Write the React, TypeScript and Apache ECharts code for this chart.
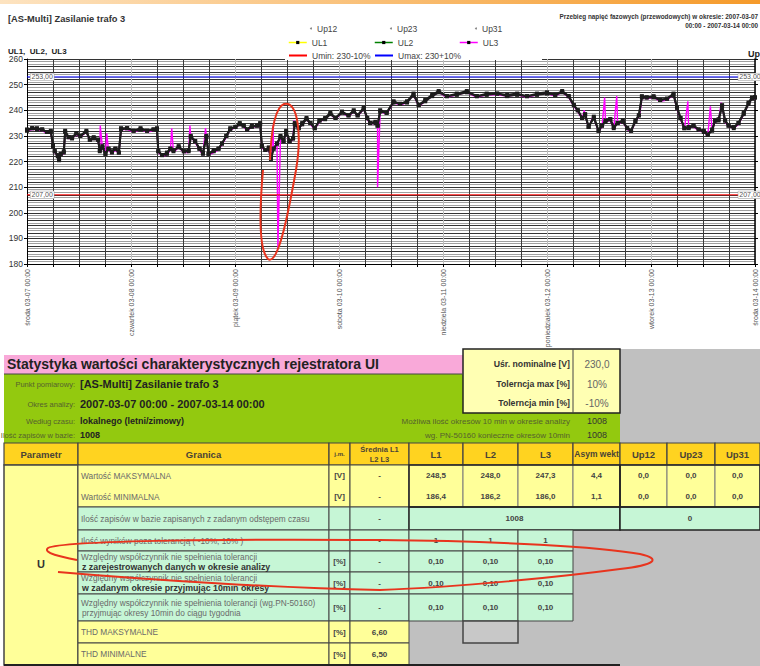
import React, { useEffect, useRef } from "react";
import * as echarts from "echarts";

const FONT = '"Liberation Sans", Arial, Helvetica, sans-serif';

// ---------------- chart data ----------------
const dayLabels = [
  "środa 03-07 00:00",
  "czwartek 03-08 00:00",
  "piątek 03-09 00:00",
  "sobota 03-10 00:00",
  "niedziela 03-11 00:00",
  "poniedziałek 03-12 00:00",
  "wtorek 03-13 00:00",
  "środa 03-14 00:00",
];

const hours = [
  0, 1.2, 2.3, 3.5, 4.6, 5.5, 6, 6.4, 7.1, 7.4,
  7.8, 8.5, 8.8, 9.6, 10.4, 11.4, 12.3, 13.7, 14.5, 15.4,
  16.4, 16.8, 17.4, 18.1, 18.8, 19.6, 20.4, 21.2, 21.7, 23.1,
  24.6, 26.2, 27.7, 29.2, 30, 30.3, 31.2, 32.3, 33.1, 33.8,
  35, 36.2, 37.3, 37.8, 38.8, 39.8, 40.6, 41.4, 41.9, 43.1,
  44.2, 45, 46, 46.9, 48.1, 49.1, 50, 50.8, 51.9, 53.1,
  53.8, 54.2, 55, 55.8, 56.3, 56.9, 57.7, 58.5, 59.2, 59.8,
  60.6, 61.4, 61.8, 62.7, 63.5, 64.5, 65.4, 66.4, 67.5, 68.8,
  70, 71.2, 72.7, 74.2, 75.4, 76.3, 77.7, 78.5, 79.2, 80.4,
  80.9, 81.5, 83, 84.6, 86.1, 87.7, 89.2, 90.4, 91.9, 93.5,
  95, 96.9, 99.2, 101.5, 103.8, 106.1, 108.5, 110.8, 113.1, 115.4,
  117.7, 120, 121.9, 123.5, 125, 126.2, 127.1, 128.1, 128.8, 129.6,
  130.8, 131.9, 132.7, 133.5, 134.6, 135.4, 136.3, 137.5, 138.5, 139.4,
  140.4, 141.2, 141.9, 143, 144.6, 146.1, 147.7, 149.2, 150, 150.8,
  151.7, 152.7, 153.8, 155, 156.2, 157.1, 158.1, 158.8, 159.6, 160.4,
  161.1, 161.9, 163.1, 164.2, 165.4, 166.5, 167.3, 168,
];

const ul1 = [
  232.5, 233, 233, 232.5, 231.5, 232, 226, 224, 222, 220.5,
  223, 223.5, 232, 229.5, 229.5, 231, 230, 232, 228.5, 229.5,
  228.5, 224, 226, 223, 225, 223.5, 225, 223.5, 233, 233,
  232, 233, 232, 232.5, 233, 224, 222.5, 223, 225, 224,
  226, 224, 224, 230, 228, 225, 223, 230, 223, 224,
  225, 227, 230, 233, 233.5, 235, 234, 232.5, 234, 234,
  235, 226, 224.5, 225, 221, 225, 227, 230, 228, 232,
  228, 229, 235, 233, 235, 237, 235, 233, 236, 237,
  239, 237, 239.5, 238, 240, 238, 241, 237, 235, 235.5,
  234, 240, 239, 243.5, 242.5, 243.5, 246.5, 242, 244, 246,
  247.5, 245.5, 246.5, 247.5, 245.5, 246.5, 246.5, 246, 246.5, 245.5,
  246.5, 247, 246, 247.5, 245.5, 242, 240, 237, 238.5, 233.5,
  237.5, 232, 234, 236, 236.5, 233.5, 235, 236, 233, 232,
  236, 238, 245.5, 245, 245.5, 244, 244.5, 246.5, 241, 237,
  233, 233.5, 234, 232.5, 232, 230.5, 232.5, 236, 236.5, 242,
  236, 234, 233.5, 235, 239, 243, 245, 245,
];

const ul2 = [
  232, 233, 232.5, 232.5, 231.5, 231.5, 226.5, 224, 222.5, 221,
  223, 224, 231.5, 229.5, 229, 231, 230, 231.5, 228.5, 229,
  228.5, 224.5, 225.5, 223, 225, 224, 225, 223.5, 232.5, 233,
  232, 232.5, 232, 232.5, 232.5, 224, 222.5, 223.5, 225, 224.5,
  225.5, 224, 224.5, 229.5, 228, 225, 223.5, 229.5, 223, 224.5,
  225, 227, 230, 232.5, 233.5, 234.5, 234, 232.5, 233.5, 234,
  234.5, 226, 224.5, 225.5, 221.5, 225, 227, 229.5, 228, 231.5,
  228, 229, 234.5, 233, 234.5, 236.5, 235, 233, 236, 236.5,
  238.5, 237, 239, 238, 239.5, 238, 240.5, 237, 235, 235,
  234, 239.5, 239, 243, 242.5, 243, 246, 242, 243.5, 245.5,
  247, 245.5, 246, 247, 245.5, 246, 246.5, 245.5, 246, 245.5,
  246, 246.5, 246, 247, 245.5, 242, 240, 237, 238, 233.5,
  237, 232, 234, 235.5, 236.5, 233, 235, 235.5, 233, 232,
  235.5, 238, 245, 245, 245, 244, 244.5, 246, 241, 237,
  233, 233, 234, 232.5, 231.5, 230.5, 232, 236, 236, 241.5,
  236, 234, 233, 235, 238.5, 242.5, 244.5, 245,
];

const ul3 = [
  232, 232.5, 232.5, 232, 231, 231.5, 226, 223.5, 222, 220.5,
  222.5, 223, 231.5, 229, 229, 230.5, 229.5, 231.5, 228, 229,
  228, 224, 225.5, 222.5, 224.5, 223, 224.5, 223, 232.5, 232.5,
  231.5, 232.5, 231.5, 232, 232.5, 223.5, 222, 222.5, 224.5, 223.5,
  225.5, 223.5, 223.5, 229.5, 227.5, 224.5, 222.5, 229.5, 222.5, 223.5,
  224.5, 226.5, 229.5, 232.5, 233, 234.5, 233.5, 232, 233.5, 233.5,
  234.5, 225.5, 224, 224.5, 220.5, 224.5, 226.5, 229.5, 227.5, 231.5,
  227.5, 228.5, 234.5, 232.5, 234.5, 236.5, 234.5, 232.5, 235.5, 236.5,
  238.5, 236.5, 239, 237.5, 239.5, 237.5, 240.5, 236.5, 234.5, 235,
  233.5, 239.5, 238.5, 243, 242, 243, 246, 241.5, 243.5, 245.5,
  247, 245, 246, 247, 245, 246, 246, 245.5, 246, 245,
  246, 246.5, 245.5, 247, 245, 241.5, 239.5, 236.5, 238, 233,
  237, 231.5, 233.5, 235.5, 236, 233, 234.5, 235.5, 232.5, 231.5,
  235.5, 237.5, 245, 244.5, 245, 243.5, 244, 246, 240.5, 236.5,
  232.5, 233, 233.5, 232, 231.5, 230, 232, 235.5, 236, 241.5,
  235.5, 233.5, 233, 234.5, 238.5, 242.5, 244.5, 244.5,
];

const ul3SpikeHours = [16.9, 18.4, 33.4, 37.6, 41.2, 56.8, 57.9, 61.6, 80.9, 128.6, 130.7, 133.3, 136.1, 141.4, 152.5, 157.7, 160.2];
const ul3SpikeValues = [234, 231, 233, 234, 233, 234, 186, 236, 210, 240, 238, 245, 245.5, 238, 243.5, 241.5, 243];

const limitValues = [207, 253];
const limitLabels = ["207,00", "253,00"];

// ---------------- table data ----------------
const tableHeaders = ["Parametr", "Granica", "j.m.", "Średnia L1\nL2 L3", "L1", "L2", "L3", "Asym wekt", "Up12", "Up23", "Up31"];
const rowLabels = [
  "Wartość MAKSYMALNA",
  "Wartość MINIMALNA",
  "Ilość zapisów w bazie zapisanych z zadanym odstępem czasu",
  "Ilość wyników poza tolerancją ( -10%, 10% )",
  "Względny współczynnik nie spełnienia tolerancji",
  "Względny współczynnik nie spełnienia tolerancji",
  "Względny współczynnik nie spełnienia tolerancji (wg.PN-50160)",
  "THD MAKSYMALNE",
  "THD MINIMALNE",
];
const rowSubLabels = ["", "", "", "", "z zarejestrowanych danych w okresie analizy", "w zadanym okresie przyjmując 10min okresy", "przyjmując okresy 10min do ciągu tygodnia", "", ""];
const rowSubBold = [false, false, false, false, true, true, false, false, false];
const rowUnits = ["[V]", "[V]", "", "", "[%]", "[%]", "[%]", "[%]", "[%]"];
const rowAverages = ["-", "-", "-", "-", "-", "-", "-", "6,60", "6,50"];
const valuesL1 = ["248,5", "186,4", "", "1", "0,10", "0,10", "0,10"];
const valuesL2 = ["248,0", "186,2", "", "1", "0,10", "0,10", "0,10"];
const valuesL3 = ["247,3", "186,0", "", "1", "0,10", "0,10", "0,10"];
const valuesAsym = ["4,4", "1,1"];
const valuesUp12 = ["0,0", "0,0"];
const valuesUp23 = ["0,0", "0,0"];
const valuesUp31 = ["0,0", "0,0"];
const recordCounts = ["1008", "0"];
const infoLabels = ["Punkt pomiarowy:", "Okres analizy:", "Według czasu:", "Ilość zapisów w bazie:"];
const infoValues = ["[AS-Multi] Zasilanie trafo 3", "2007-03-07 00:00 - 2007-03-14 00:00", "lokalnego (letni/zimowy)", "1008"];
const nominalLabels = ["Uśr. nominalne [V]", "Tolerncja max [%]", "Tolerncja min [%]"];
const nominalValues = ["230,0", "10%", "-10%"];
const periodLabels = ["Możliwa ilość okresów 10 min w okresie analizy", "wg. PN-50160 konieczne okresów 10min"];
const periodValues = ["1008", "1008"];

// hand-drawn annotation loops
echarts.graphic.registerShape(
  "loopChart",
  echarts.graphic.extendPath(
    "M263,170 C259,215 259,250 268,259 C278,266 288,215 296,170 C302,135 298,100 284,104 C274,108 271,135 270,160",
    {}
  )
);
echarts.graphic.registerShape(
  "loopTable",
  echarts.graphic.extendPath(
    "M77,560 C62,557 42,553 48,548 C62,540 250,539 380,540 C500,541 600,547 640,554 C662,559 655,565 620,569 C560,577 460,587 380,590 C280,588 150,580 58,572",
    {}
  )
);

const YEL = "#ffff99";
const MINT = "#c6f6d6";
const GOLD = "#ffd320";
const GRAY = "#c0c0c0";
const GREEN = "#93c90f";
const PINK = "#f9a9d9";
const BOX = "#ffffb3";
const LINE = "#444";
const THIN = "#7a7a7a";

function buildGraphics(): any[] {
  const els: any[] = [];
  const R = (x: number, y: number, w: number, h: number, fill: string, stroke?: string, lw = 1, z = 10) =>
    els.push({ type: "rect", silent: true, z, shape: { x, y, width: w, height: h }, style: { fill, stroke: stroke || null, lineWidth: lw } });
  const L = (x1: number, y1: number, x2: number, y2: number, stroke: string, lw = 1, z = 11) =>
    els.push({ type: "line", silent: true, z, shape: { x1, y1, x2, y2 }, style: { stroke, lineWidth: lw } });
  const T = (x: number, y: number, text: string, size: number, o: any = {}) =>
    els.push({
      type: "text",
      silent: true,
      z: o.z || 12,
      x,
      y,
      style: {
        text,
        fill: o.color || "#333",
        fontSize: size,
        fontWeight: o.bold ? "bold" : "normal",
        fontFamily: FONT,
        align: o.align || "left",
        textAlign: o.align || "left",
        verticalAlign: "middle",
        textVerticalAlign: "middle",
        lineHeight: o.lineHeight || size + 2,
      },
    });

  // top orange strip
  els.push({
    type: "rect",
    silent: true,
    z: 1,
    shape: { x: 0, y: 0, width: 760, height: 4 },
    style: {
      fill: {
        type: "linear", x: 0, y: 0, x2: 1, y2: 0,
        colorStops: [{ offset: 0, color: "#fde3c0" }, { offset: 1, color: "#f59a2a" }],
      },
    },
  });

  // chart titles
  T(8, 19, "[AS-Multi] Zasilanie trafo 3", 9.3, { bold: true, color: "#333" });
  T(8, 51, "UL1,  UL2,  UL3", 8, { bold: true, color: "#222" });
  T(760, 54, "Up", 9, { bold: true, color: "#222", align: "right" });
  T(758, 16, "Przebieg napięć fazowych (przewodowych) w okresie: 2007-03-07", 6.4, { bold: true, align: "right", color: "#333" });
  T(758, 25, "00:00 - 2007-03-14 00:00", 6.4, { bold: true, align: "right", color: "#333" });
  // legend background
  R(285, 24, 257, 36, "#ffffff", undefined, 1, 3);

  // ---------- table top block ----------
  R(620, 349, 140, 94, GRAY, undefined, 1, 9);
  R(4, 355, 459, 19, PINK, undefined, 1, 9);
  R(4, 374, 616, 69, GREEN, undefined, 1, 9);
  L(4, 374, 463, 374, LINE, 1);
  R(463, 349, 157, 64, BOX, "#222", 1.5, 10);
  L(573, 349, 573, 413, LINE, 1);
  T(7, 364, "Statystyka wartości charakterystycznych rejestratora UI", 14, { bold: true, color: "#222" });
  const infoY = [384, 404, 421, 435];
  const infoSize = [11, 11, 9, 9];
  infoLabels.forEach((s, i) => {
    T(75, infoY[i], s, 7.5, { align: "right", color: "#55622e" });
    T(80, infoY[i], infoValues[i], infoSize[i], { bold: true, color: "#222" });
  });
  const nomY = [364, 384, 403];
  nominalLabels.forEach((s, i) => {
    T(570, nomY[i], s, 8.7, { bold: true, align: "right", color: "#333" });
    T(597, nomY[i], nominalValues[i], 10, { align: "center", color: "#666" });
  });
  const perY = [421, 435];
  periodLabels.forEach((s, i) => {
    T(570, perY[i], s, 8, { align: "right", color: "#55622e" });
    T(597, perY[i], periodValues[i], 9, { align: "center", color: "#333" });
  });

  // ---------- main table ----------
  const colX = [4, 78, 329, 350, 409, 463, 518, 573, 620, 667, 715, 760];
  const rowY = [465, 486, 507, 530, 551, 572, 594, 621, 643, 665];
  const cx = (c: number) => (colX[c] + colX[c + 1]) / 2;
  const cy = (r: number) => (rowY[r] + rowY[r + 1]) / 2;

  // gray background regions
  R(573, 530, 187, 91, GRAY, undefined, 1, 9);
  R(409, 621, 351, 45, GRAY, undefined, 1, 9);

  // header
  for (let c = 0; c < 11; c++) {
    R(colX[c], 443, colX[c + 1] - colX[c], 22, GOLD, LINE, 1.2, 10);
    const size = c === 2 ? 6 : c === 3 ? 7.5 : c === 7 ? 8.5 : 9.5;
    T(cx(c), 454, tableHeaders[c], size, { bold: true, align: "center", color: "#4a4436", lineHeight: 10 });
  }

  // Parametr column
  R(4, 465, 74, 200, YEL, LINE, 1.5, 10);
  T(41, 564, "U", 11, { bold: true, align: "center", color: "#333" });

  // rows 0-1 (max/min) block
  for (let c = 1; c < 11; c++) {
    R(colX[c], 465, colX[c + 1] - colX[c], 42, YEL, c >= 4 ? THIN : LINE, 1, 10);
  }
  R(409, 465, 211, 42, "rgba(0,0,0,0)", "#222", 1.5, 11);
  R(620, 465, 140, 42, "rgba(0,0,0,0)", "#222", 1.5, 11);
  const maxMinCols = [valuesL1, valuesL2, valuesL3, valuesAsym, valuesUp12, valuesUp23, valuesUp31];
  for (let r = 0; r < 2; r++) {
    maxMinCols.forEach((arr, k) => T(cx(4 + k), cy(r), arr[r], 8, { bold: true, align: "center", color: "#444" }));
  }

  // row 2 (records)
  for (let c = 1; c < 4; c++) R(colX[c], 507, colX[c + 1] - colX[c], 23, MINT, LINE, 1, 10);
  R(409, 507, 211, 23, MINT, "#222", 1.5, 10);
  R(620, 507, 140, 23, MINT, "#222", 1.5, 10);
  T(514.5, cy(2), recordCounts[0], 8, { bold: true, align: "center", color: "#444" });
  T(690, cy(2), recordCounts[1], 8, { bold: true, align: "center", color: "#444" });

  // rows 3-6 (tolerance)
  for (let r = 3; r < 7; r++) {
    for (let c = 1; c < 7; c++) R(colX[c], rowY[r], colX[c + 1] - colX[c], rowY[r + 1] - rowY[r], MINT, LINE, 1, 10);
    [valuesL1, valuesL2, valuesL3].forEach((arr, k) => T(cx(4 + k), cy(r), arr[r], 8, { bold: true, align: "center", color: "#444" }));
  }

  // rows 7-8 (THD)
  for (let r = 7; r < 9; r++) {
    for (let c = 1; c < 4; c++) R(colX[c], rowY[r], colX[c + 1] - colX[c], rowY[r + 1] - rowY[r], YEL, LINE, 1, 10);
  }
  R(463, 621, 55, 22, "#c8c8c8", LINE, 1.5, 10);

  // common row texts
  for (let r = 0; r < 9; r++) {
    if (rowSubLabels[r]) {
      T(81, cy(r) - 5, rowLabels[r], 8.3, { color: "#6a6a6a" });
      T(82, cy(r) + 5, rowSubLabels[r], rowSubBold[r] ? 8.8 : 8.3, { bold: rowSubBold[r], color: rowSubBold[r] ? "#333" : "#6a6a6a" });
    } else {
      T(81, cy(r), rowLabels[r], 8.3, { color: "#6a6a6a" });
    }
    if (rowUnits[r]) T(cx(2), cy(r), rowUnits[r], 8, { bold: true, align: "center", color: "#444" });
    T(cx(3), cy(r), rowAverages[r], 8, { bold: true, align: "center", color: "#444" });
  }
  L(4, 665, 620, 665, "#222", 2);

  // annotations
  els.push({ type: "loopChart", x: 0, y: 0, silent: true, z: 50, style: { stroke: "#e8341e", fill: "none", lineWidth: 2 } });
  els.push({ type: "loopTable", x: 0, y: 0, silent: true, z: 50, style: { stroke: "#e8341e", fill: "none", lineWidth: 2 } });
  return els;
}

const pairs = (h: number[], v: number[]) => h.map((t, i) => [t, v[i]]);

export default function App() {
  const ref = useRef<HTMLDivElement>(null);
  useEffect(() => {
    if (!ref.current) return;
    const chart = echarts.init(ref.current, undefined, { renderer: "svg" });
    const ul3Data = [...pairs(hours, ul3), ...pairs(ul3SpikeHours, ul3SpikeValues)].sort((a, b) => a[0] - b[0]);
    const legendText = { fontSize: 8.5, color: "#444", fontFamily: FONT };
    const mkLegend = (item: any, left: number, top: number, extra: any = {}) => ({
      data: [typeof item === "string" ? { name: item } : item],
      left, top, padding: 0, itemGap: 0, itemWidth: 18, itemHeight: 4,
      textStyle: legendText, selectedMode: false, z: 5, ...extra,
    });
    const limitLabelStyle = {
      show: true, fontSize: 7, color: "#555", fontFamily: FONT,
      backgroundColor: "#fff", borderColor: "#999", borderWidth: 0.5, padding: [0, 1],
    };
    const limitSeries = (name: string, idx: number, color: string) => ({
      name, type: "line", symbol: "rect", symbolSize: 1, z: 3,
      itemStyle: { color: "rgba(0,0,0,0)" },
      lineStyle: { color, width: 1 },
      data: [
        { value: [0, limitValues[idx]], label: { ...limitLabelStyle, position: "right", distance: 3, formatter: limitLabels[idx] } },
        { value: [168, limitValues[idx]], label: { ...limitLabelStyle, position: "inside", offset: [-5, 0], formatter: limitLabels[idx] } },
      ],
    });
    const traceStyle = (name: string, data: number[][]) => ({
      name, type: "line", data, symbol: "rect", symbolSize: 4, showAllSymbol: true,
      itemStyle: { color: "#1c1c1c" }, lineStyle: { color: "#1c1c1c", width: 2 }, z: 2,
    });
    chart.setOption({
      animation: false,
      backgroundColor: "#ffffff",
      textStyle: { fontFamily: FONT },
      grid: { left: 27, right: 5, top: 59, bottom: 402, containLabel: false },
      legend: [
        mkLegend({ name: "Up12", icon: "circle" }, 310, 24, { itemWidth: 2, itemHeight: 2 }),
        mkLegend({ name: "Up23", icon: "circle" }, 390, 24, { itemWidth: 2, itemHeight: 2 }),
        mkLegend({ name: "Up31", icon: "circle" }, 475, 24, { itemWidth: 2, itemHeight: 2 }),
        mkLegend({ name: "UL1", lineStyle: { color: "#ffff00", width: 1.5 }, itemStyle: { color: "#000" } }, 288, 38),
        mkLegend({ name: "UL2", lineStyle: { color: "#008000", width: 1.5 }, itemStyle: { color: "#000" } }, 374, 38),
        mkLegend({ name: "UL3", lineStyle: { color: "#ff00ff", width: 1.5 }, itemStyle: { color: "#000" } }, 459, 38),
        mkLegend("Umin: 230-10%", 288, 51),
        mkLegend("Umax: 230+10%", 374, 51),
      ],
      xAxis: {
        type: "value", min: 0, max: 168, interval: 6,
        axisLine: { show: true, lineStyle: { color: "#000", width: 1 } },
        axisTick: { show: true, length: 3, lineStyle: { color: "#000" } },
        axisLabel: {
          rotate: 90, fontSize: 7, color: "#555", margin: 5, fontFamily: FONT,
          showMinLabel: true, showMaxLabel: true,
          formatter: (v: number) => (v % 24 === 0 ? dayLabels[v / 24] : ""),
        },
        splitLine: { show: true, lineStyle: { color: ["#bdbdbd", "#3a3a3a", "#3a3a3a", "#3a3a3a"], width: 1 } },
      },
      yAxis: [
        {
          type: "value", min: 180, max: 260, interval: 10, position: "left",
          axisLine: { show: true, lineStyle: { color: "#000" } },
          axisTick: { show: true, length: 3, lineStyle: { color: "#000" } },
          axisLabel: { fontSize: 8.5, color: "#333", margin: 4, fontFamily: FONT },
          splitLine: { show: false },
        },
        {
          type: "value", min: 180, max: 260, interval: 10, position: "right",
          axisLine: { show: true, lineStyle: { color: "#000", width: 1.5 } },
          axisTick: { show: true, length: 3, lineStyle: { color: "#000" } },
          axisLabel: { show: false },
          splitLine: { show: false },
        },
        {
          type: "value", min: 180, max: 260, interval: 1, position: "left",
          axisLine: { show: false }, axisTick: { show: false }, axisLabel: { show: false },
          splitLine: {
            show: true,
            lineStyle: { color: ["#333", "#a0a0a0", "#333", "#a0a0a0", "#a0a0a0", "#333", "#a0a0a0", "#333", "#a0a0a0", "#a0a0a0"], width: 1 },
          },
        },
      ],
      series: [
        { name: "Up12", type: "line", data: [], symbol: "circle", itemStyle: { color: "#888" } },
        { name: "Up23", type: "line", data: [], symbol: "circle", itemStyle: { color: "#888" } },
        { name: "Up31", type: "line", data: [], symbol: "circle", itemStyle: { color: "#888" } },
        limitSeries("Umin: 230-10%", 0, "#ff0000"),
        limitSeries("Umax: 230+10%", 1, "#0000ff"),
        {
          name: "UL3", type: "line", data: ul3Data, symbol: "rect", showSymbol: false, z: 2,
          itemStyle: { color: "#111" }, lineStyle: { color: "#ff00ff", width: 1.4 },
        },
        traceStyle("UL1", pairs(hours, ul1)),
        traceStyle("UL2", pairs(hours, ul2)),
      ],
      graphic: { elements: buildGraphics() },
    });
    return () => chart.dispose();
  }, []);
  return <div ref={ref} style={{ position: "fixed", left: 0, top: 0, width: 760, height: 666 }} />;
}
